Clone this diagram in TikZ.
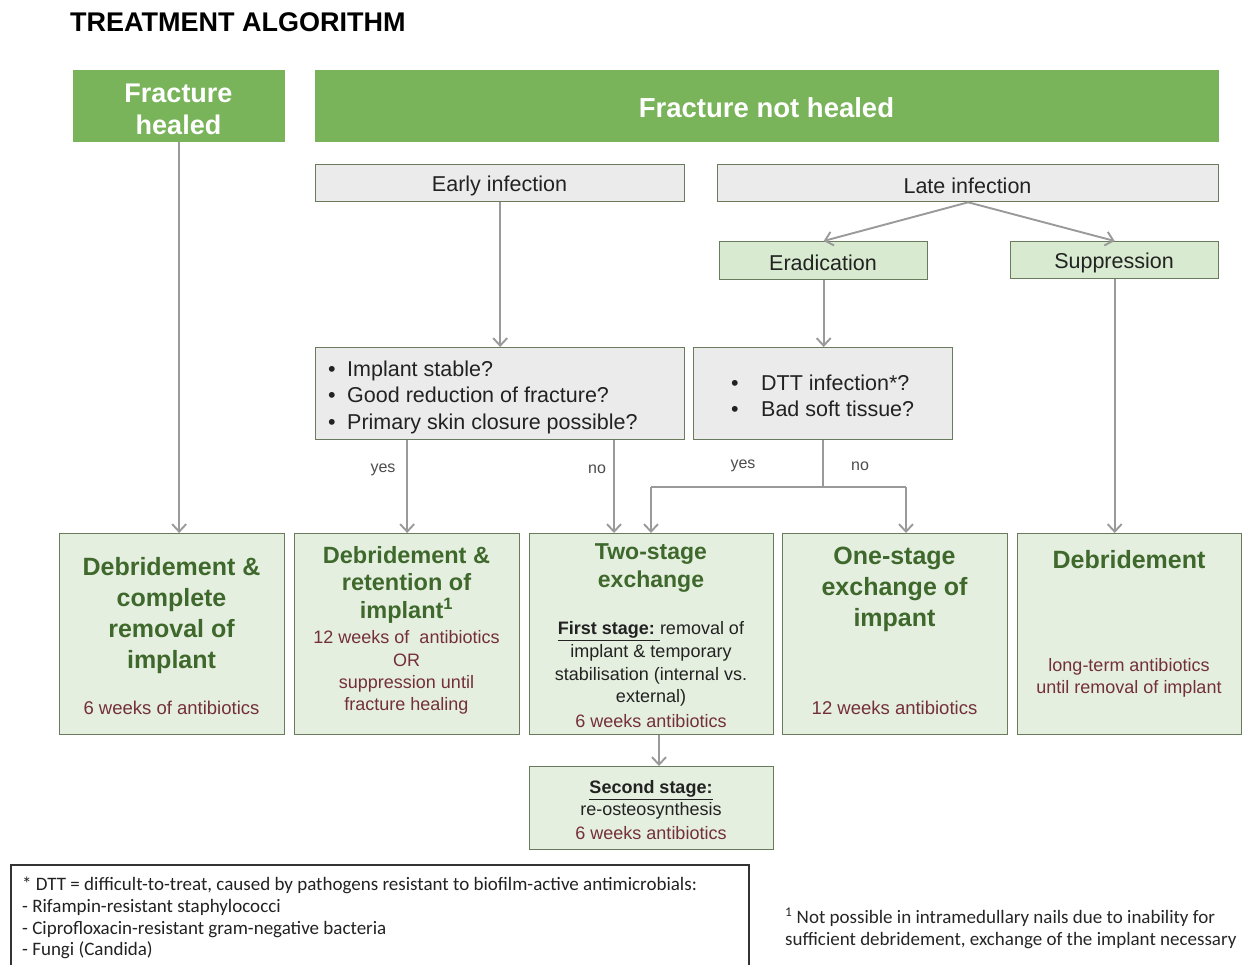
\documentclass[tikz,border=0pt]{standalone}
\usepackage{fontspec}
\setmainfont{Liberation Sans}
\newfontfamily\calib{Carlito}
\usetikzlibrary{arrows.meta}
\definecolor{hdrgreen}{HTML}{79B45A}
\definecolor{lgreen}{HTML}{D8EACF}
\definecolor{bgreen}{HTML}{E5EFDF}
\definecolor{bordgreen}{HTML}{6A7A5C}
\definecolor{lgray}{HTML}{EBEBEB}
\definecolor{arrgray}{HTML}{9A9A9A}
\definecolor{titlegreen}{HTML}{3F682C}
\definecolor{darkred}{HTML}{73303A}
\definecolor{txt}{HTML}{222222}
\newcommand\fsz[2]{\fontsize{#1}{#2}\selectfont}
\newcommand\bul[1]{\makebox[#1][l]{\textbullet}}
\begin{document}
\begin{tikzpicture}[x=1pt,y=-1pt,
  box/.style={draw=bordgreen, line width=1.3pt, inner sep=0pt, anchor=north west},
  hdr/.style={box, fill=hdrgreen, draw=hdrgreen, text=white, font=\bfseries, align=center},
  graybox/.style={box, fill=lgray},
  smallg/.style={box, fill=lgreen},
  bigg/.style={box, fill=bgreen},
  ttl/.style={text=titlegreen, font=\bfseries, align=center, inner sep=0pt, yshift=-2pt},
  red/.style={text=darkred, align=center, inner sep=0pt, yshift=-2pt},
  plain/.style={text=txt, align=center, inner sep=0pt, yshift=-2pt},
  lbl/.style={text=black!70, inner sep=0pt, font=\fsz{16}{19}},
  arr/.style={draw=arrgray, line width=1.9pt, -{Straight Barb[length=7.5pt,width=14pt]}},
  ln/.style={draw=arrgray, line width=1.9pt}]
\useasboundingbox (0,0) rectangle (1244,964);
\fill[white] (0,0) rectangle (1244,964);

% title
\node[anchor=west, inner sep=0pt, font=\bfseries\fsz{27}{31}] (title) at (70,22) {TREATMENT ALGORITHM};

% headers
\node[hdr, minimum width=211pt, minimum height=71pt] (healed) at (73,70) {};
\node[text=white, font=\bfseries\fsz{27}{32}, align=center, inner sep=0pt, yshift=-2pt] (healedt) at (178.5,107) {Fracture\\healed};
\node[hdr, minimum width=903pt, minimum height=71pt] (nothealed) at (315,70) {};
\node[text=white, font=\bfseries\fsz{27.5}{32}, inner sep=0pt, yshift=-2pt] (nothealedt) at (766.5,106) {Fracture not healed};

% infection boxes
\node[graybox, minimum width=369pt, minimum height=37pt] (early) at (315,164) {};
\node[plain, font=\fsz{21.5}{26}] (earlyt) at (499.5,184) {Early infection};
\node[graybox, minimum width=501pt, minimum height=37pt] (late) at (717,164) {};
\node[plain, font=\fsz{21.5}{26}] (latet) at (967.5,184) {Late infection};

\node[smallg, minimum width=208pt, minimum height=38pt] (erad) at (719,241) {};
\node[plain, font=\fsz{21.5}{26}] (eradt) at (823,261) {Eradication};
\node[smallg, minimum width=208pt, minimum height=37pt] (supp) at (1010,241) {};
\node[plain, font=\fsz{21.5}{26}] (suppt) at (1114,261) {Suppression};

% question boxes
\node[graybox, minimum width=369pt, minimum height=92pt] (q1) at (315,347) {};
\node[plain, align=left, anchor=west, font=\fsz{21.5}{26.5}] (q1t) at (328,395) {\bul{19pt}Implant stable?\\\bul{19pt}Good reduction of fracture?\\\bul{19pt}Primary skin closure possible?};
\node[graybox, minimum width=259pt, minimum height=92pt] (q2) at (693,347) {};
\node[plain, align=left, anchor=west, font=\fsz{21.5}{26}] (q2t) at (731,394) {\bul{30pt}DTT infection*?\\\bul{30pt}Bad soft tissue?};

% bottom boxes
\node[bigg, minimum width=225pt, minimum height=201pt] (b1) at (59,533) {};
\node[ttl, font=\bfseries\fsz{25}{31}] (b1t) at (171.5,613.5) {Debridement \&\\complete\\removal of\\implant};
\node[red, font=\fsz{18.5}{22}] (b1r) at (171.5,706) {6 weeks of antibiotics};

\node[bigg, minimum width=225pt, minimum height=201pt] (b2) at (294,533) {};
\node[ttl, font=\bfseries\fsz{23.5}{27.5}] (b2t) at (406.5,582.5) {Debridement \&\\retention of\\implant\textsuperscript{1}};
\node[red, font=\fsz{18}{22.3}] (b2r) at (406.5,670.5) {12 weeks of~ antibiotics\\OR\\suppression until\\fracture healing};

\node[bigg, minimum width=244pt, minimum height=201pt] (b3) at (529,533) {};
\node[ttl, font=\bfseries\fsz{23}{28}] (b3t) at (651,566) {Two-stage\\exchange};
\node[plain, font=\fsz{18}{22.75}] (b3b) at (651,662) {\underline{\textbf{First stage:}\ }removal of\\implant \& temporary\\stabilisation (internal vs.\\external)};
\node[red, font=\fsz{18}{22}] (b3r) at (651,719) {6 weeks antibiotics};

\node[bigg, minimum width=225pt, minimum height=201pt] (b4) at (782,533) {};
\node[ttl, font=\bfseries\fsz{25}{31}] (b4t) at (894.5,587) {One-stage\\exchange of\\impant};
\node[red, font=\fsz{18.5}{22}] (b4r) at (894.5,706) {12 weeks antibiotics};

\node[bigg, minimum width=224pt, minimum height=201pt] (b5) at (1017,533) {};
\node[ttl, font=\bfseries\fsz{25}{31}] (b5t) at (1129,558) {Debridement};
\node[red, font=\fsz{18}{22}] (b5r) at (1129,676) {long-term antibiotics\\ until removal of implant};

\node[bigg, minimum width=244pt, minimum height=83pt] (b6) at (529,766) {};
\node[plain, font=\fsz{18}{22}] (b6t) at (651,798) {\underline{\textbf{Second stage:}}\\re-osteosynthesis};
\node[red, font=\fsz{18}{22}] (b6r) at (651,831) {6 weeks antibiotics};

% connectors
\coordinate (noX) at (614,0);
\coordinate (jy) at (0,487);
\coordinate (yesR) at (651,487);
\coordinate (noR) at (906,487);
\coordinate (b6X) at (659,0);

\draw[arr] (healed.south) -- (healed.south |- b1.north);
\draw[arr] (early.south) -- (early.south |- q1.north);
\draw[arr] (late.south) -- (erad.north);
\draw[arr] (late.south) -- (supp.north);
\draw[arr] (erad.south) -- (erad.south |- q2.north);
\draw[arr] (supp.south) -- (supp.south |- b5.north);
\draw[arr] (q1.south -| b2.north) -- (b2.north);
\draw[arr] (q1.south -| noX) -- (b3.north -| noX);
\draw[ln] (q2.south) -- (q2.south |- jy);
\draw[ln] (yesR) -- (noR);
\draw[arr] (yesR) -- (b3.north -| yesR);
\draw[arr] (noR) -- (b4.north -| noR);
\draw[arr] (b3.south -| b6X) -- (b6.north -| b6X);

\node[lbl] (yes1) at (383,470) {yes};
\node[lbl] (no1) at (597,469) {no};
\node[lbl] (yes2) at (743,466) {yes};
\node[lbl] (no2) at (860,466) {no};

% footnotes
\node[draw=black!80, line width=1.5pt, anchor=north west, minimum width=738pt, minimum height=120pt, inner sep=0pt] (fn) at (10,864) {};
\node[anchor=north west, align=left, inner sep=0pt, text=txt, font=\calib\fsz{19}{21.7}] (fnt) at (22,877) {* DTT = difficult-to-treat, caused by pathogens resistant to biofilm-active antimicrobials:\\- Rifampin-resistant staphylococci\\- Ciprofloxacin-resistant gram-negative bacteria\\- Fungi (Candida)};
\node[anchor=north west, align=left, inner sep=0pt, text=black!85, font=\calib\fsz{19}{22}] (fn2) at (785,908) {\textsuperscript{1} Not possible in intramedullary nails due to inability for\\sufficient debridement, exchange of the implant necessary};
\end{tikzpicture}
\end{document}
